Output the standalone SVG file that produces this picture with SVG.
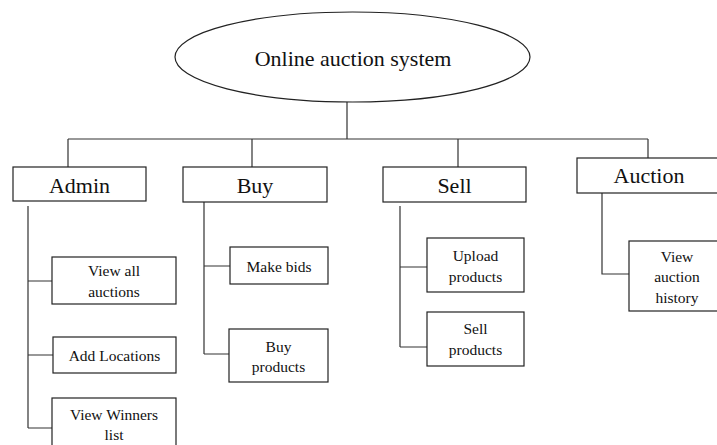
<svg xmlns="http://www.w3.org/2000/svg" width="717" height="445" viewBox="0 0 717 445">
<defs>
<style>
.box{fill:#fff;stroke:#222;stroke-width:1.2}
.ln{fill:none;stroke:#333;stroke-width:1.2}
</style>
</defs>
<rect width="717" height="445" fill="#fff"/>
<g id="connectors" class="ln">
<path d="M347 102V139M68 139H648M68 139V167M252 139V167M458 139V167M648 139V158"/>
<path d="M28 206V428M28 281H52M28 355H53M28 428H52"/>
<path d="M204 202V354M204 266H230M204 354H229"/>
<path d="M400 206V347M400 267H427M400 347H427"/>
<path d="M602 193V274H629"/>
</g>
<g id="root"><ellipse class="box" cx="352.5" cy="57" rx="177.5" ry="45"/><text style="font-family:'Liberation Serif',serif" fill="#111" text-anchor="middle" font-size="22" x="353" y="66">Online auction system</text></g>
<g id="admin"><rect class="box" x="13" y="167" width="133" height="34"/><text style="font-family:'Liberation Serif',serif" fill="#111" text-anchor="middle" font-size="22" x="79.5" y="193">Admin</text></g>
<g id="buy"><rect class="box" x="183" y="167" width="144" height="35"/><text style="font-family:'Liberation Serif',serif" fill="#111" text-anchor="middle" font-size="22" x="255" y="193">Buy</text></g>
<g id="sell"><rect class="box" x="383" y="167" width="143" height="35"/><text style="font-family:'Liberation Serif',serif" fill="#111" text-anchor="middle" font-size="22" x="454.5" y="193">Sell</text></g>
<g id="auction"><rect class="box" x="577" y="158" width="150" height="35"/><text style="font-family:'Liberation Serif',serif" fill="#111" text-anchor="middle" font-size="22" x="649" y="183">Auction</text></g>
<g id="view-all-auctions"><rect class="box" x="52" y="257" width="124" height="47"/><text style="font-family:'Liberation Serif',serif" fill="#111" text-anchor="middle" font-size="15.5" x="114" y="276">View all</text><text style="font-family:'Liberation Serif',serif" fill="#111" text-anchor="middle" font-size="15.5" x="114" y="297">auctions</text></g>
<g id="add-locations"><rect class="box" x="53" y="337" width="123" height="36"/><text style="font-family:'Liberation Serif',serif" fill="#111" text-anchor="middle" font-size="15.5" x="114.5" y="361">Add Locations</text></g>
<g id="view-winners-list"><rect class="box" x="52" y="398" width="124" height="60"/><text style="font-family:'Liberation Serif',serif" fill="#111" text-anchor="middle" font-size="15.5" x="114" y="420">View Winners</text><text style="font-family:'Liberation Serif',serif" fill="#111" text-anchor="middle" font-size="15.5" x="114" y="440">list</text></g>
<g id="make-bids"><rect class="box" x="230" y="247" width="98" height="37"/><text style="font-family:'Liberation Serif',serif" fill="#111" text-anchor="middle" font-size="15.5" x="279" y="272">Make bids</text></g>
<g id="buy-products"><rect class="box" x="229" y="329" width="99" height="53"/><text style="font-family:'Liberation Serif',serif" fill="#111" text-anchor="middle" font-size="15.5" x="278.5" y="352">Buy</text><text style="font-family:'Liberation Serif',serif" fill="#111" text-anchor="middle" font-size="15.5" x="278.5" y="372">products</text></g>
<g id="upload-products"><rect class="box" x="427" y="238" width="97" height="54"/><text style="font-family:'Liberation Serif',serif" fill="#111" text-anchor="middle" font-size="15.5" x="475.5" y="261">Upload</text><text style="font-family:'Liberation Serif',serif" fill="#111" text-anchor="middle" font-size="15.5" x="475.5" y="282">products</text></g>
<g id="sell-products"><rect class="box" x="427" y="312" width="97" height="54"/><text style="font-family:'Liberation Serif',serif" fill="#111" text-anchor="middle" font-size="15.5" x="475.5" y="334">Sell</text><text style="font-family:'Liberation Serif',serif" fill="#111" text-anchor="middle" font-size="15.5" x="475.5" y="355">products</text></g>
<g id="view-auction-history"><rect class="box" x="629" y="241" width="100" height="70"/><text style="font-family:'Liberation Serif',serif" fill="#111" text-anchor="middle" font-size="15.5" x="677" y="262">View</text><text style="font-family:'Liberation Serif',serif" fill="#111" text-anchor="middle" font-size="15.5" x="677" y="282">auction</text><text style="font-family:'Liberation Serif',serif" fill="#111" text-anchor="middle" font-size="15.5" x="677" y="303">history</text></g>
</svg>
